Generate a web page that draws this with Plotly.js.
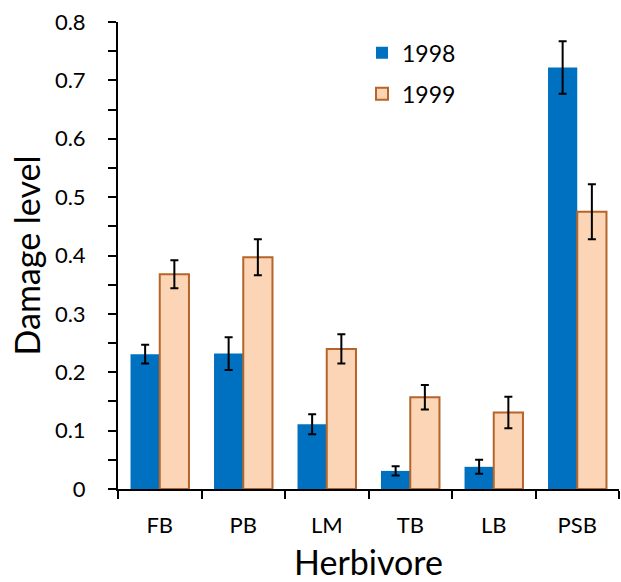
<!DOCTYPE html>
<html>
<head>
<meta charset="utf-8">
<script src="https://cdn.plot.ly/plotly-3.0.1.min.js"></script>
<style>html,body{margin:0;padding:0;background:#fff;}#chart{width:621px;height:582px;}</style>
</head>
<body>
<div id="chart"></div>
<script>
const categories = ["FB", "PB", "LM", "TB", "LB", "PSB"];
const values1998 = [0.231, 0.232, 0.111, 0.031, 0.038, 0.722];
const errors1998 = [0.016, 0.028, 0.017, 0.008, 0.012, 0.045];
const values1999 = [0.368, 0.397, 0.240, 0.157, 0.131, 0.475];
const errors1999 = [0.024, 0.031, 0.025, 0.021, 0.027, 0.047];
const yTickVals = [0, 0.1, 0.2, 0.3, 0.4, 0.5, 0.6, 0.7, 0.8];
const yTickText = ["0", "0.1", "0.2", "0.3", "0.4", "0.5", "0.6", "0.7", "0.8"];

const FONT = "Lato, 'Open Sans', sans-serif";

const traces = [
  {
    type: "bar", name: "1998", x: categories, y: values1998, legendgroup: "g1",
    marker: {color: "#0070C0", line: {color: "#0070C0", width: 0}},
    error_y: {type: "data", array: errors1998, visible: true, color: "#000", thickness: 2, width: 4}
  },
  {
    type: "bar", name: "1999", x: categories, y: values1999, legendgroup: "g2",
    marker: {color: "#FBD5B5", line: {color: "#B5652A", width: 2}},
    error_y: {type: "data", array: errors1999, visible: true, color: "#000", thickness: 2, width: 4}
  }
];

const layout = {
  width: 621, height: 582,
  margin: {l: 118, r: 2, t: 22, b: 93},
  paper_bgcolor: "#fff", plot_bgcolor: "#fff",
  font: {family: FONT, color: "#000"},
  barmode: "group", bargap: 0.3, bargroupgap: 0,
  showlegend: true,
  legend: {x: 0.487, y: 0.98, xanchor: "left", yanchor: "top", font: {size: 23, family: FONT}, bgcolor: "rgba(0,0,0,0)", tracegroupgap: 8, itemwidth: 30},
  xaxis: {
    type: "category",
    showline: true, linecolor: "#000", linewidth: 2,
    ticks: "outside", tickson: "boundaries", ticklen: 8, tickwidth: 2, tickcolor: "#000",
    tickfont: {size: 22, family: FONT},
    ticklabelstandoff: 16,
    showgrid: false, zeroline: false,
    title: {text: "Herbivore", font: {size: 34, family: FONT}, standoff: 16}
  },
  yaxis: {
    range: [0, 0.8],
    tickvals: yTickVals, ticktext: yTickText,
    showline: true, linecolor: "#000", linewidth: 2,
    ticks: "outside", ticklen: 8, tickwidth: 2, tickcolor: "#000",
    minor: {dtick: 0.05, tick0: 0, ticks: "outside", ticklen: 8, tickwidth: 2, tickcolor: "#000", showgrid: false},
    tickfont: {size: 22, family: FONT},
    ticklabelstandoff: 18,
    showgrid: false, zeroline: false,
    title: {text: "Damage level", font: {size: 34, family: FONT}, standoff: 4}
  }
};

Plotly.newPlot("chart", traces, layout, {displayModeBar: false, staticPlot: true});
</script>
</body>
</html>
